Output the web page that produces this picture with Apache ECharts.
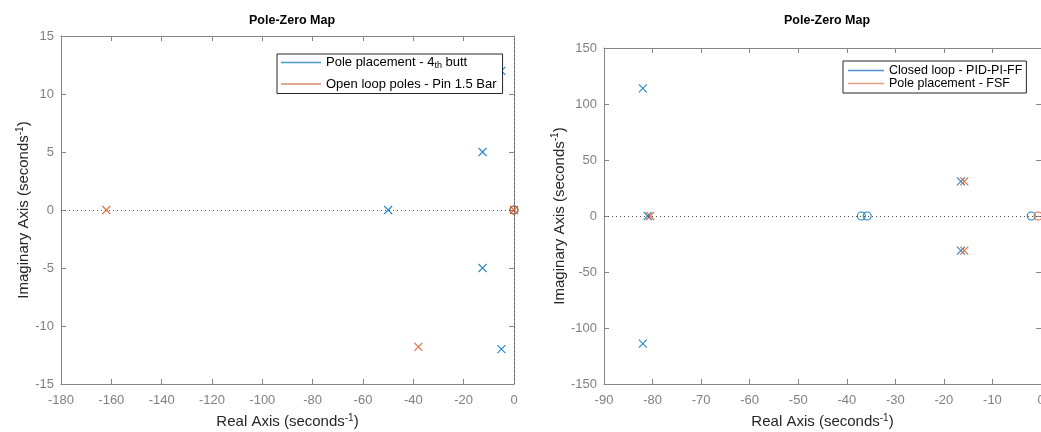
<!DOCTYPE html>
<html>
<head>
<meta charset="utf-8">
<script src="https://cdn.jsdelivr.net/npm/echarts@6/dist/echarts.min.js"></script>
<style>
  html, body { margin: 0; padding: 0; background: #fff; }
  #chart { width: 1041px; height: 432px; }
</style>
</head>
<body>
<div id="chart"></div>
<script>
// left map: poles (x) and zeros (o), [real, imag]
var leftPoles4th = [[-50, 0], [-12.5, 5], [-12.5, -5], [-5, 12], [-5, -12]];
var leftZeros4th = [[0, 0]];
var leftPolesOpen = [[-162, 0], [-38, 11.8], [-38, -11.8], [0, 0]];
var leftZerosOpen = [[0, 0]];

// right map
var rightPolesCL = [[-82, 114], [-82, -114], [-81, 0], [-16.5, 31], [-16.5, -31]];
var rightZerosCL = [[-37, 0], [-35.8, 0], [-2, 0]];
var rightPolesFSF = [[-80.5, 0], [-15.8, 31], [-15.8, -31]];
var rightZerosFSF = [[-0.6, 0]];

var leftXTicks = { min: -180, max: 0, interval: 20 };
var leftYTicks = { min: -15, max: 15, interval: 5 };
var rightXTicks = { min: -90, max: 0, interval: 10 };
var rightYTicks = { min: -150, max: 150, interval: 50 };

var BLUE = '#0072BD';
var ORANGE = '#D95319';
var FONT = 'Liberation Sans, Arial, sans-serif';
var AXIS_COLOR = '#868686';
var X_MARK = 'path://M0,0L10,10M10,0L0,10';

var chart = echarts.init(document.getElementById('chart'));

var axisNameRich = {
  a: { fontSize: 15, color: '#262626', fontFamily: FONT, lineHeight: 18 },
  s: { fontSize: 10, color: '#262626', fontFamily: FONT, lineHeight: 10, verticalAlign: 'top' }
};

function makeAxis(range, gridIndex, pos, withLabels, name, gap) {
  var ax = {
    type: 'value',
    gridIndex: gridIndex,
    position: pos,
    min: range.min,
    max: range.max,
    interval: range.interval,
    splitLine: { show: false },
    axisLine: { show: true, onZero: false, lineStyle: { color: AXIS_COLOR, width: 1 } },
    axisTick: { show: true, inside: true, length: 5, lineStyle: { color: AXIS_COLOR } },
    axisLabel: { show: withLabels, color: '#808080', fontSize: 13, fontFamily: FONT,
                 margin: (pos === 'bottom') ? 10 : 7 }
  };
  if (name) {
    ax.name = name;
    ax.nameLocation = 'middle';
    ax.nameGap = gap;
    ax.nameTextStyle = { rich: axisNameRich };
  }
  return ax;
}

function zeroLines() {
  return {
    silent: true,
    symbol: ['none', 'none'],
    label: { show: false },
    lineStyle: { type: [1, 3], color: '#555', width: 1 },
    data: [{ yAxis: 0 }, { xAxis: 0 }]
  };
}

function markSeries(name, data, color, isPole, xi, withLines) {
  var s = {
    name: name,
    type: 'scatter',
    xAxisIndex: xi,
    yAxisIndex: xi,
    data: data,
    symbol: isPole ? X_MARK : 'circle',
    symbolSize: 8,
    itemStyle: { color: 'none', borderColor: color, borderWidth: 1.1, opacity: 0.85 },
    z: 3
  };
  if (withLines) s.markLine = zeroLines();
  return s;
}

var realName = '{a|Real Axis (seconds}{s|-1}{a|)}';
var imagName = '{a|Imaginary Axis (seconds}{s|-1}{a|)}';

var option = {
  animation: false,
  backgroundColor: '#fff',
  title: [
    { text: 'Pole-Zero Map', left: 244, top: 9,
      textStyle: { fontSize: 12.5, fontWeight: 'bold', color: '#000', fontFamily: FONT } },
    { text: 'Pole-Zero Map', left: 779, top: 9,
      textStyle: { fontSize: 12.5, fontWeight: 'bold', color: '#000', fontFamily: FONT } }
  ],
  grid: [
    { left: 61, top: 36, width: 453, height: 348, outerBoundsMode: 'none', containLabel: false },
    { left: 604, top: 48, width: 437, height: 336, outerBoundsMode: 'none', containLabel: false }
  ],
  legend: [
    {
      orient: 'vertical',
      left: 277, top: 54,
      backgroundColor: '#fff',
      borderColor: '#262626', borderWidth: 1, borderRadius: 0,
      padding: [2, 6, 3, 4],
      itemGap: 7,
      itemWidth: 40, itemHeight: 1.5,
      icon: 'rect',
      data: [
        { name: 'Pole placement - 4th butt', itemStyle: { color: '#4a9bc8', borderWidth: 0, opacity: 1 } },
        { name: 'Open loop poles - Pin 1.5 Bar', itemStyle: { color: '#d98a6a', borderWidth: 0, opacity: 1 } }
      ],
      formatter: function (n) {
        if (n === 'Pole placement - 4th butt') return '{a|Pole placement - 4}{b|th}{a| butt}';
        return '{a|' + n + '}';
      },
      textStyle: {
        rich: {
          a: { fontSize: 13, color: '#000', fontFamily: FONT, lineHeight: 16 },
          b: { fontSize: 9, color: '#000', fontFamily: FONT, lineHeight: 9, verticalAlign: 'bottom' }
        }
      },
      z: 10
    },
    {
      orient: 'vertical',
      left: 843, top: 61,
      backgroundColor: '#fff',
      borderColor: '#262626', borderWidth: 1, borderRadius: 0,
      padding: [3, 4, 3, 5],
      itemGap: 0,
      itemWidth: 36, itemHeight: 1.5,
      icon: 'rect',
      data: [
        { name: 'Closed loop - PID-PI-FF', itemStyle: { color: '#4a8fd0', borderWidth: 0, opacity: 1 } },
        { name: 'Pole placement - FSF', itemStyle: { color: '#e89c80', borderWidth: 0, opacity: 1 } }
      ],
      textStyle: { fontSize: 12.5, color: '#000', fontFamily: FONT, lineHeight: 12 },
      z: 10
    }
  ],
  xAxis: [
    makeAxis(leftXTicks, 0, 'bottom', true, realName, 29),
    makeAxis(leftXTicks, 0, 'top', false),
    makeAxis(rightXTicks, 1, 'bottom', true, realName, 29),
    makeAxis(rightXTicks, 1, 'top', false)
  ],
  yAxis: [
    makeAxis(leftYTicks, 0, 'left', true, imagName, 27),
    makeAxis(leftYTicks, 0, 'right', false),
    makeAxis(rightYTicks, 1, 'left', true, imagName, 28),
    makeAxis(rightYTicks, 1, 'right', false)
  ],
  series: [
    markSeries('Pole placement - 4th butt', leftPoles4th, BLUE, true, 0, true),
    markSeries('Pole placement - 4th butt', leftZeros4th, BLUE, false, 0, false),
    markSeries('Open loop poles - Pin 1.5 Bar', leftPolesOpen, ORANGE, true, 0, false),
    markSeries('Open loop poles - Pin 1.5 Bar', leftZerosOpen, ORANGE, false, 0, false),
    markSeries('Closed loop - PID-PI-FF', rightPolesCL, BLUE, true, 2, true),
    markSeries('Closed loop - PID-PI-FF', rightZerosCL, BLUE, false, 2, false),
    markSeries('Pole placement - FSF', rightPolesFSF, ORANGE, true, 2, false),
    markSeries('Pole placement - FSF', rightZerosFSF, ORANGE, false, 2, false)
  ]
};

chart.setOption(option);
</script>
</body>
</html>
